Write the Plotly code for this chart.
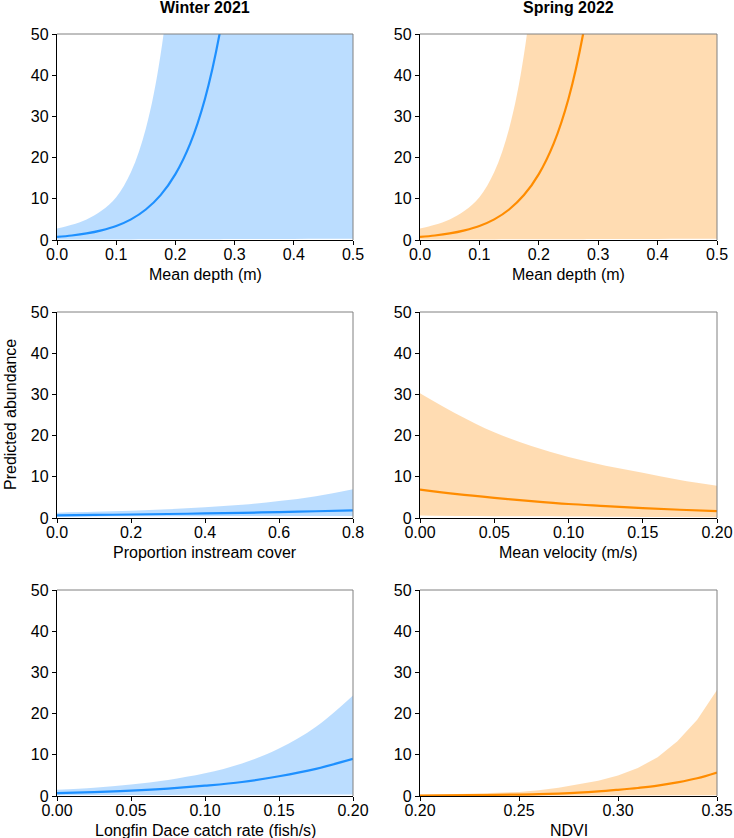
import plotly.graph_objects as go

# ---------------- data ----------------
depth_x = [0, 0.025, 0.05, 0.075, 0.1, 0.125, 0.15, 0.175, 0.2, 0.225, 0.25, 0.275, 0.3, 0.35, 0.4, 0.45, 0.5]
depth_mean = [0.75, 1.1, 1.6, 2.35, 3.4, 5.0, 7.4, 10.9, 16.0, 23.4, 34.3, 50.3, 73.7, 160, 340, 730, 1500]
depth_upper = [2.8, 3.7, 5.0, 7.1, 10.4, 16.5, 27.0, 45.0, 78.0, 140, 250, 450, 800, 2500, 6000, 12000, 25000]
depth_lower = [0.1, 0.1, 0.12, 0.13, 0.14, 0.15, 0.16, 0.17, 0.18, 0.19, 0.2, 0.21, 0.22, 0.24, 0.26, 0.28, 0.3]

cover_x = [0, 0.1, 0.2, 0.3, 0.4, 0.5, 0.6, 0.7, 0.8]
cover_mean = [0.65, 0.74, 0.85, 0.97, 1.1, 1.26, 1.44, 1.64, 1.87]
cover_upper = [1.3, 1.5, 1.75, 2.1, 2.6, 3.2, 4.1, 5.3, 7.0]
cover_lower = [0.3, 0.35, 0.4, 0.42, 0.45, 0.48, 0.5, 0.5, 0.5]

vel_x = [0, 0.025, 0.05, 0.075, 0.1, 0.125, 0.15, 0.175, 0.2]
vel_mean = [6.9, 5.8, 4.9, 4.1, 3.4, 2.9, 2.4, 2.0, 1.65]
vel_upper = [30.3, 25.2, 20.8, 17.5, 14.8, 12.7, 11.0, 9.2, 7.8]
vel_lower = [0.6, 0.5, 0.45, 0.4, 0.35, 0.3, 0.25, 0.22, 0.2]

catch_x = [0, 0.025, 0.05, 0.075, 0.1, 0.125, 0.15, 0.175, 0.2]
catch_mean = [0.7, 0.95, 1.3, 1.8, 2.5, 3.4, 4.8, 6.6, 9.0]
catch_upper = [1.5, 2.0, 2.8, 3.9, 5.5, 7.9, 11.5, 16.8, 24.4]
catch_lower = [0.2, 0.22, 0.24, 0.26, 0.28, 0.3, 0.32, 0.34, 0.36]

ndvi_x = [0.2, 0.225, 0.25, 0.26, 0.27, 0.28, 0.29, 0.3, 0.31, 0.32, 0.33, 0.34, 0.35]
ndvi_mean = [0.1, 0.2, 0.35, 0.45, 0.6, 0.8, 1.1, 1.5, 1.95, 2.5, 3.3, 4.3, 5.7]
ndvi_upper = [0.3, 0.55, 1.0, 1.4, 2.0, 2.8, 3.7, 5.0, 6.8, 9.4, 13.3, 18.5, 25.7]
ndvi_lower = [0.02, 0.03, 0.05, 0.06, 0.07, 0.08, 0.09, 0.1, 0.12, 0.14, 0.16, 0.18, 0.2]

col_titles = ["Winter 2021", "Spring 2022"]
y_title = "Predicted abundance"
y_ticks = [0, 10, 20, 30, 40, 50]

BLUE = "#1E90FF"
BLUE_FILL = "rgba(30,144,255,0.3)"
ORANGE = "#FF8C00"
ORANGE_FILL = "rgba(255,140,0,0.3)"

W, H = 734, 838
FONT = "Liberation Sans, Arial, sans-serif"
FS = 16

# panel pixel boxes (left, right, top, bottom)
cols_px = [(57, 353), (420, 717)]
rows_px = [(34, 240), (312, 518), (590, 796)]

panels = [
    (0, 0, depth_x, depth_mean, depth_upper, depth_lower, BLUE, BLUE_FILL, [0, 0.5], [0, 0.1, 0.2, 0.3, 0.4, 0.5], ".1f", "Mean depth (m)", "spline"),
    (0, 1, depth_x, depth_mean, depth_upper, depth_lower, ORANGE, ORANGE_FILL, [0, 0.5], [0, 0.1, 0.2, 0.3, 0.4, 0.5], ".1f", "Mean depth (m)", "spline"),
    (1, 0, cover_x, cover_mean, cover_upper, cover_lower, BLUE, BLUE_FILL, [0, 0.8], [0, 0.2, 0.4, 0.6, 0.8], ".1f", "Proportion instream cover", "spline"),
    (1, 1, vel_x, vel_mean, vel_upper, vel_lower, ORANGE, ORANGE_FILL, [0, 0.2], [0, 0.05, 0.1, 0.15, 0.2], ".2f", "Mean velocity (m/s)", "spline"),
    (2, 0, catch_x, catch_mean, catch_upper, catch_lower, BLUE, BLUE_FILL, [0, 0.2], [0, 0.05, 0.1, 0.15, 0.2], ".2f", "Longfin Dace catch rate (fish/s)", "spline"),
    (2, 1, ndvi_x, ndvi_mean, ndvi_upper, ndvi_lower, ORANGE, ORANGE_FILL, [0.2, 0.35], [0.2, 0.25, 0.3, 0.35], ".2f", "NDVI", "linear"),
]

fig = go.Figure()
layout = dict(
    width=W, height=H,
    margin=dict(l=0, r=0, t=0, b=0, autoexpand=False),
    paper_bgcolor="white", plot_bgcolor="white",
    showlegend=False,
    font=dict(family=FONT, size=FS, color="black"),
)
shapes = []
annotations = []

for i, (r, c, xs, mean, up, lo, col, fill, xr, xt, fmt, xtitle, bshape) in enumerate(panels):
    n = i + 1
    xa = "x" if n == 1 else f"x{n}"
    ya = "y" if n == 1 else f"y{n}"
    l, rr = cols_px[c]
    t, b = rows_px[r]
    xdom = [l / W, rr / W]
    ydom = [1 - b / H, 1 - t / H]

    fig.add_trace(go.Scatter(x=xs, y=lo, mode="lines", line=dict(width=0, shape=bshape, color=fill),
                             xaxis=xa, yaxis=ya, hoverinfo="skip"))
    fig.add_trace(go.Scatter(x=xs, y=up, mode="lines", line=dict(width=0, shape=bshape, color=fill),
                             fill="tonexty", fillcolor=fill, xaxis=xa, yaxis=ya, hoverinfo="skip"))
    fig.add_trace(go.Scatter(x=xs, y=mean, mode="lines", line=dict(width=2.2, shape="spline", color=col),
                             xaxis=xa, yaxis=ya))

    xkey = "xaxis" if n == 1 else f"xaxis{n}"
    ykey = "yaxis" if n == 1 else f"yaxis{n}"
    layout[xkey] = dict(
        domain=xdom, anchor=ya, range=xr, tickvals=xt, tickformat=fmt, automargin=False,
        showgrid=False, zeroline=False, showline=True, linecolor="black", linewidth=1.3,
        ticks="outside", ticklen=4, tickwidth=1.2, tickcolor="black", ticklabelstandoff=-4,
        tickfont=dict(size=FS, family=FONT, color="black"),
        fixedrange=True,
    )
    layout[ykey] = dict(
        domain=ydom, anchor=xa, range=[0, 50], tickvals=y_ticks, automargin=False,
        showgrid=False, zeroline=False, showline=True, linecolor="black", linewidth=1.3,
        ticks="outside", ticklen=4, tickwidth=1.2, tickcolor="black",
        tickfont=dict(size=FS, family=FONT, color="black"),
        fixedrange=True,
    )
    shapes.append(dict(type="line", xref=f"{xa} domain", yref=f"{ya} domain", x0=0, x1=1, y0=1, y1=1,
                       line=dict(color="#808080", width=1), layer="above"))
    shapes.append(dict(type="line", xref=f"{xa} domain", yref=f"{ya} domain", x0=1, x1=1, y0=0, y1=1,
                       line=dict(color="#808080", width=1), layer="above"))
    annotations.append(dict(text=xtitle, xref="paper", yref="paper",
                            x=(l + rr) / 2 / W, y=1 - (b + 34) / H, xanchor="center", yanchor="middle",
                            showarrow=False, font=dict(size=FS, family=FONT, color="black")))

for c, title in enumerate(col_titles):
    l, rr = cols_px[c]
    annotations.append(dict(text=f"<b>{title}</b>", xref="paper", yref="paper",
                            x=(l + rr) / 2 / W, y=1 - 8 / H, xanchor="center", yanchor="middle",
                            showarrow=False, font=dict(size=FS, family=FONT, color="black")))

annotations.append(dict(text=y_title, xref="paper", yref="paper", x=10 / W, y=1 - 415 / H,
                        xanchor="center", yanchor="middle", textangle=-90, showarrow=False,
                        font=dict(size=FS, family=FONT, color="black")))

layout["shapes"] = shapes
layout["annotations"] = annotations
fig.update_layout(**layout)
fig.write_html("out.html")
